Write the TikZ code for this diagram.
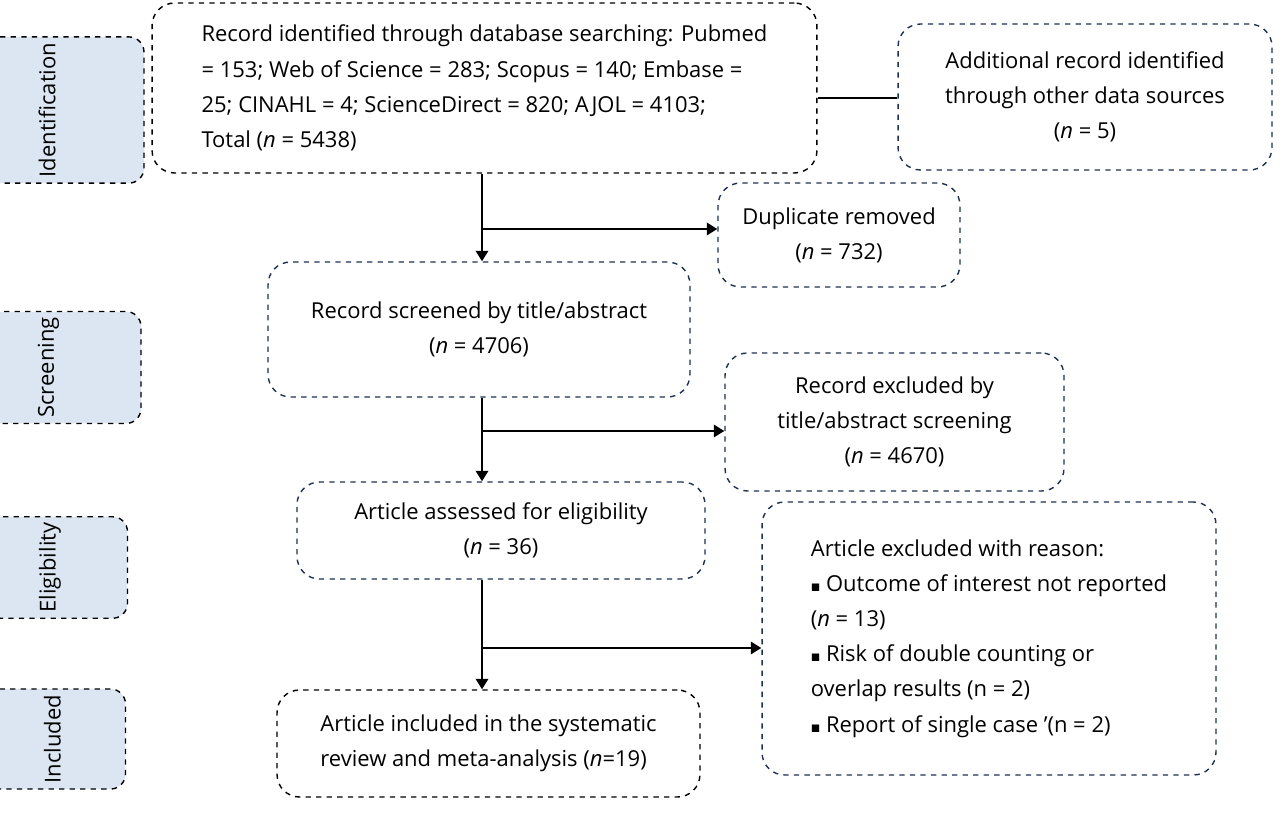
\documentclass[tikz,border=0pt]{standalone}
\usepackage{amssymb}
\usepackage{fontspec}
\setmainfont{Open Sans}
\usetikzlibrary{arrows.meta}
\definecolor{navy}{HTML}{1F3050}
\definecolor{stagefill}{HTML}{DCE6F2}

\tikzset{
	box/.style={draw,dashed,thick,rounded corners=0.45cm,align=center,inner sep=2pt,font=\fontsize{12.5}{20}\selectfont},
	stage/.style={draw,dashed,thick,rounded corners=0.3cm,fill=stagefill,minimum width=1.8cm,font=\fontsize{12.5}{15}\selectfont,rotate=90},
	flow/.style={line width=1.4pt,-{Triangle[length=6pt,width=7pt]}}
}

\begin{document}
\begin{tikzpicture}[x=0.02cm,y=-0.02cm]
	\useasboundingbox (0,0) rectangle (1280,821);
	\node (ident) [stage,minimum height=3.88cm] at (47,110) {Identification};
	\node (screen) [stage,minimum height=3.7cm] at (48.5,367.5) {Screening};
	\node (elig) [stage,minimum height=3.1cm] at (50,567.5) {Eligibility};
	\node (incl) [stage,minimum height=2.92cm] at (52.5,739) {Included};
	\node (db) [box,minimum width=13.3cm,minimum height=3.4cm,align=left] at (484.5,88) {Record identified through database searching: Pubmed\\= 153; Web of Science = 283; Scopus = 140; Embase =\\25; CINAHL = 4; ScienceDirect = 820; AJOL = 4103;\\Total (\textit{n} = 5438)};
	\node (other) [box,navy,text=black,minimum width=7.48cm,minimum height=2.92cm] at (1085,97) {Additional record identified\\through other data sources\\(\textit{n} = 5)};
	\node (dup) [box,navy,text=black,minimum width=4.84cm,minimum height=2.08cm] at (839,235) {Duplicate removed\\(\textit{n} = 732)};
	\node (scr) [box,navy,text=black,minimum width=8.44cm,minimum height=2.7cm] at (479,329.5) {Record screened by title/abstract\\(\textit{n} = 4706)};
	\node (excl) [box,navy,text=black,minimum width=6.78cm,minimum height=2.76cm] at (894.5,422) {Record excluded by\\title/abstract screening\\(\textit{n} = 4670)};
	\node (art) [box,navy,text=black,minimum width=8.16cm,minimum height=1.94cm] at (501,530.5) {Article assessed for eligibility\\(\textit{n} = 36)};
	\node (reason) [box,navy,text=black,minimum width=9.08cm,minimum height=5.46cm,align=left] at (989,638.5) {Article excluded with reason:\\{\tiny$\blacksquare$} Outcome of interest not reported\\(\textit{n} = 13)\\{\tiny$\blacksquare$} Risk of double counting or\\overlap results (n = 2)\\{\tiny$\blacksquare$} Report of single case '(n = 2)};
	\node (inc) [box,minimum width=8.46cm,minimum height=2.14cm,align=left] at (488.5,743.5) {Article included in the systematic\\review and meta-analysis (\textit{n}=19)};
	\draw [line width=1.4pt] (db.east |- 0,98) -- (other.west |- 0,98);
	\draw [flow] (db.south -| 482,0) -- (scr.north -| 482,0);
	\draw [flow] (482,229) -- (dup.west |- 0,229);
	\draw [flow] (scr.south -| 482,0) -- (art.north -| 482,0);
	\draw [flow] (482,431) -- (excl.west |- 0,431);
	\draw [flow] (art.south -| 482,0) -- (inc.north -| 482,0);
	\draw [flow] (482,648) -- (reason.west |- 0,648);
\end{tikzpicture}
\end{document}
